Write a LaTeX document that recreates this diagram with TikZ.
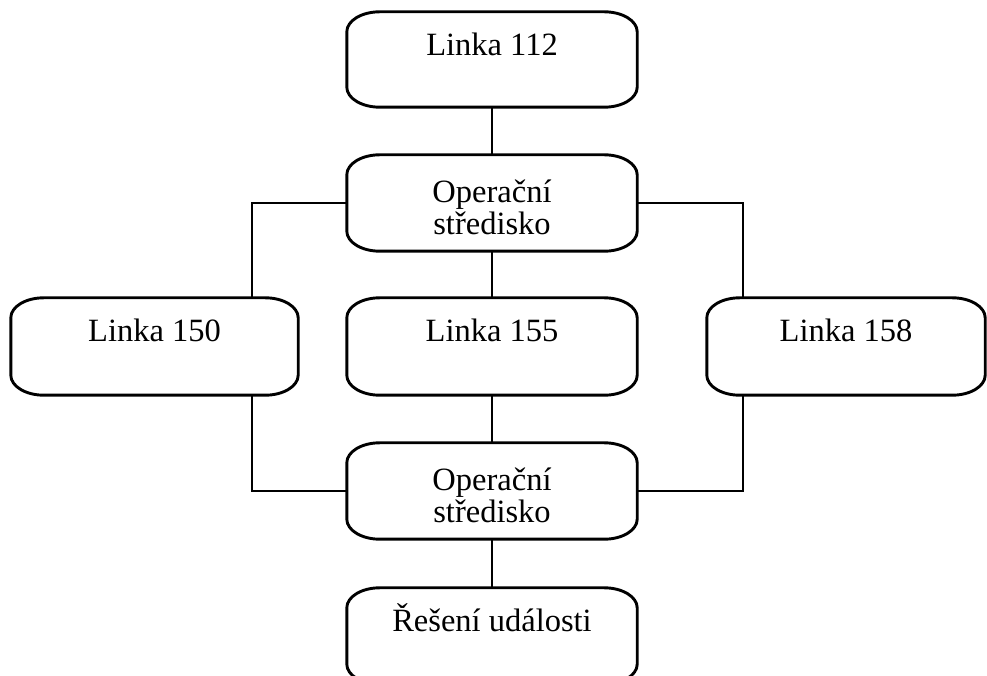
\documentclass[tikz,border=0pt]{standalone}
\usepackage{fontspec}
\setmainfont{Liberation Serif}
\usetikzlibrary{calc}
\begin{document}
\begin{tikzpicture}[x=1pt,y=1pt,
  boxn/.style={draw=none,inner sep=0pt,minimum width=290pt,minimum height=96pt},
  txt/.style={inner sep=0pt,anchor=base,font=\fontsize{32.5}{34}\selectfont},
  conn/.style={line width=1.9pt},
  frame/.style={line width=2.9pt},
]
\def\rx{33}\def\ry{20}
\newcommand{\ebox}[1]{%
  \draw[frame] ($(#1.north west)+(\rx,0)$) -- ($(#1.north east)+(-\rx,0)$)
    arc[start angle=90,end angle=0,x radius=\rx,y radius=\ry]
    -- ($(#1.south east)+(0,\ry)$)
    arc[start angle=0,end angle=-90,x radius=\rx,y radius=\ry]
    -- ($(#1.south west)+(\rx,0)$)
    arc[start angle=270,end angle=180,x radius=\rx,y radius=\ry]
    -- ($(#1.north west)+(0,-\ry)$)
    arc[start angle=180,end angle=90,x radius=\rx,y radius=\ry]
    -- cycle;}
\useasboundingbox (0,0) rectangle (987,676);
\clip (0,0) rectangle (987,676);
% boxes (y = 676 - pixel y)
\node[boxn,minimum height=95pt] (b112) at (492,616.5) {};
\node[boxn] (op1) at (492,473) {};
\node[boxn,minimum width=287pt,minimum height=97pt] (l150) at (154.5,329.5) {};
\node[boxn,minimum height=97pt] (l155) at (492,329.5) {};
\node[boxn,minimum width=278pt,minimum height=97pt] (l158) at (846,329.5) {};
\node[boxn] (op2) at (492,185) {};
\node[boxn] (res) at (492,40) {};
\foreach \n in {b112,op1,l150,l155,l158,op2,res}{\ebox{\n}}
% texts
\node[txt] (t112) at ($(b112.north)+(0,-44)$) {Linka 112};
\node[txt] (t1a) at ($(op1.north)+(0,-48)$) {Operační};
\node[txt] (t1b) at ($(op1.north)+(0,-80)$) {středisko};
\node[txt] (t150) at ($(l150.north)+(0,-44)$) {Linka 150};
\node[txt] (t155) at ($(l155.north)+(0,-44)$) {Linka 155};
\node[txt] (t158) at ($(l158.north)+(0,-44)$) {Linka 158};
\node[txt] (t2a) at ($(op2.north)+(0,-48)$) {Operační};
\node[txt] (t2b) at ($(op2.north)+(0,-80)$) {středisko};
\node[txt] (tres) at ($(res.north)+(0,-44)$) {Řešení události};
% connector columns
\coordinate (c150) at (252,329.5);
\coordinate (c158) at (743,329.5);
% connectors
\draw[conn] (b112.south) -- (op1.north);
\draw[conn] (op1.west) -| (c150 |- l150.north);
\draw[conn] (op1.east) -| (c158 |- l158.north);
\draw[conn] (op1.south) -- (l155.north);
\draw[conn] (l155.south) -- (op2.north);
\draw[conn] (c150 |- l150.south) |- (op2.west);
\draw[conn] (c158 |- l158.south) |- (op2.east);
\draw[conn] (op2.south) -- (res.north);
\end{tikzpicture}
\end{document}
